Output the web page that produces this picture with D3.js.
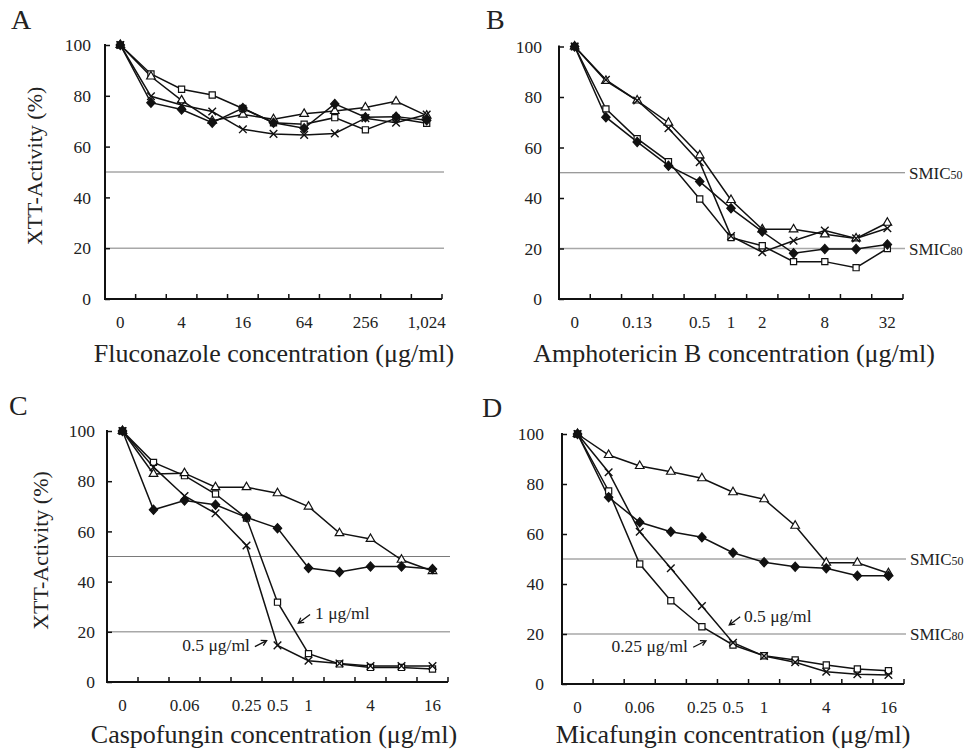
<!DOCTYPE html>
<html lang="en">
<head>
<meta charset="UTF-8">
<title>XTT activity vs antifungal concentration</title>
<script src="https://d3js.org/d3.v7.min.js"></script>
<style>
  body { margin: 0; background: #fff; }
  svg text { font-family: "Liberation Serif", "Times New Roman", serif; fill: #222; }
</style>
</head>
<body>
<div id="chart"></div>
<script>
// ---- data ----
const yTicks = [0, 20, 40, 60, 80, 100];

// A: fluconazole
const concA = ["0", "2", "4", "8", "16", "32", "64", "128", "256", "512", "1,024"];
const labelsA = ["0", "4", "16", "64", "256", "1,024"];
const diamondA = [100, 77.3, 74.6, 69.4, 75.2, 69.4, 67.2, 76.8, 71.6, 71.8, 70.4];
const squareA = [100, 88.6, 82.6, 80.3, 75.0, 69.4, 68.8, 71.4, 66.6, 71.2, 69.2];
const triangleA = [100, 87.6, 78.2, 70.2, 72.6, 70.8, 72.9, 74.0, 75.4, 77.8, 72.2];
const crossA = [100, 79.8, 76.4, 73.8, 66.8, 65.0, 64.6, 65.2, 71.2, 69.4, 72.6];

// B: amphotericin B
const concB = ["0", "0.06", "0.13", "0.25", "0.5", "1", "2", "4", "8", "16", "32"];
const labelsB = ["0", "0.13", "0.5", "1", "2", "8", "32"];
const diamondB = [100, 72.0, 62.2, 52.8, 46.5, 35.9, 26.7, 18.1, 19.8, 19.8, 21.6];
const squareB = [100, 75.3, 63.5, 54.4, 39.6, 24.3, 21.1, 14.8, 14.8, 12.4, 20.0];
const triangleB = [100, 86.4, 78.6, 69.8, 56.9, 39.2, 27.6, 27.6, 25.6, 24.0, 30.2];
const crossB = [100, 86.8, 78.6, 67.6, 54.2, 24.9, 18.5, 23.1, 27.1, 24.0, 28.0];

// C: caspofungin
const concC = ["0", "0.03", "0.06", "0.125", "0.25", "0.5", "1", "2", "4", "8", "16"];
const labelsC = ["0", "0.06", "0.25", "0.5", "1", "4", "16"];
const diamondC = [100, 68.6, 72.3, 70.6, 65.6, 61.3, 45.4, 43.8, 46.0, 46.0, 45.0];
const squareC = [100, 87.5, 82.2, 74.9, 65.3, 31.8, 11.3, 7.2, 5.8, 5.8, 5.2];
const triangleC = [100, 82.9, 83.2, 77.6, 77.6, 75.2, 69.9, 59.3, 57.0, 48.7, 44.2];
const crossC = [100, 85.6, 74.1, 67.2, 54.4, 14.6, 8.5, 7.4, 6.4, 6.4, 6.4];

// D: micafungin
const concD = ["0", "0.03", "0.06", "0.125", "0.25", "0.5", "1", "2", "4", "8", "16"];
const labelsD = ["0", "0.06", "0.25", "0.5", "1", "4", "16"];
const diamondD = [100, 74.7, 64.7, 60.9, 58.7, 52.5, 48.7, 46.9, 46.3, 43.3, 43.3];
const squareD = [100, 77.2, 48.0, 33.3, 22.9, 15.6, 11.3, 9.6, 7.6, 6.0, 5.3];
const triangleD = [100, 91.6, 87.2, 84.9, 82.3, 76.7, 73.9, 63.3, 48.5, 48.5, 44.3];
const crossD = [100, 84.7, 60.9, 46.3, 31.2, 16.5, 11.2, 8.7, 4.9, 3.9, 3.6];

// ---- layout ----
const W = 971, H = 749;
const panels = [
  { letter: "A", lx: 11, ly: 29, left: 105, right: 442, top: 45, bottom: 299, pad: 14,
    cats: concA, labels: labelsA, title: "Fluconazole concentration (\u03bcg/ml)", titleX: 274, titleY: 362,
    yTitle: true, yTitleX: 42, smic: false,
    series: { diamond: diamondA, square: squareA, triangle: triangleA, cross: crossA }, notes: [] },
  { letter: "B", lx: 486, ly: 29, left: 559, right: 903, top: 46.5, bottom: 299, pad: 17,
    cats: concB, labels: labelsB, title: "Amphotericin B concentration (\u03bcg/ml)", titleX: 734, titleY: 362,
    yTitle: false, smic: true,
    series: { diamond: diamondB, square: squareB, triangle: triangleB, cross: crossB }, notes: [] },
  { letter: "C", lx: 9, ly: 415, left: 107, right: 448, top: 431, bottom: 682, pad: 12,
    cats: concC, labels: labelsC, title: "Caspofungin concentration (\u03bcg/ml)", titleX: 274, titleY: 743,
    yTitle: true, yTitleX: 48, smic: false,
    series: { diamond: diamondC, square: squareC, triangle: triangleC, cross: crossC },
    notes: [
      { text: "1 \u03bcg/ml", u: 6.71, v: 25.1, anchor: "start", tail: [6.55, 26.9], head: [6.17, 23.4] },
      { text: "0.5 \u03bcg/ml", u: 4.61, v: 12.4, anchor: "end", tail: [4.77, 14.1], head: [5.15, 16.5] }
    ] },
  { letter: "D", lx: 482, ly: 417, left: 562, right: 904, top: 434, bottom: 684, pad: 18,
    cats: concD, labels: labelsD, title: "Micafungin concentration (\u03bcg/ml)", titleX: 733, titleY: 743,
    yTitle: false, smic: true,
    series: { diamond: diamondD, square: squareD, triangle: triangleD, cross: crossD },
    notes: [
      { text: "0.5 \u03bcg/ml", u: 5.85, v: 24.9, anchor: "start", tail: [5.73, 26.9], head: [5.38, 23.6] },
      { text: "0.25 \u03bcg/ml", u: 4.05, v: 12.9, anchor: "end", tail: [4.22, 14.7], head: [4.63, 17.3] }
    ] }
];

const svg = d3.select("#chart").append("svg")
  .attr("width", W).attr("height", H);

// marker shapes
const sym = {
  diamond: "M0,-4.6L4.2,0L0,4.6L-4.2,0Z",
  square: d3.symbol().type(d3.symbolSquare).size(38)(),
  triangle: d3.symbol().type(d3.symbolTriangle).size(32)(),
  cross: "M-3.8,-3.8L3.8,3.8M-3.8,3.8L3.8,-3.8"
};

panels.forEach(p => {
  const g = svg.append("g");
  const x = d3.scaleBand().domain(p.cats).range([p.left, p.right]).padding(0);
  const xu = d3.scaleLinear().domain([0, p.cats.length]).range([p.left, p.right]);
  const y = d3.scaleLinear().domain([0, 100]).range([p.bottom, p.top]);

  // panel letter
  g.append("text").attr("x", p.lx).attr("y", p.ly)
    .attr("font-size", 28).text(p.letter);

  // reference lines (SMIC50 / SMIC80)
  g.append("line").attr("x1", p.left).attr("x2", p.right + 2)
    .attr("y1", y(50)).attr("y2", y(50))
    .attr("stroke", "#7a7a7a").attr("stroke-width", 1);
  g.append("line").attr("x1", p.left).attr("x2", p.right + 2)
    .attr("y1", y(20)).attr("y2", y(20))
    .attr("stroke", "#a8a8a8").attr("stroke-width", 1.4);

  if (p.smic) {
    [[50, "50"], [20, "80"]].forEach(([v, sub]) => {
      const t = g.append("text").attr("x", p.right + 6).attr("y", y(v) + 6)
        .attr("font-size", 17);
      t.append("tspan").text("SMIC");
      t.append("tspan").attr("font-size", 12).text(sub);
    });
  }

  // y axis
  const yAxis = d3.axisLeft(y).tickValues(yTicks).tickSizeInner(-5).tickSizeOuter(0)
    .tickPadding(p.pad);
  const ya = g.append("g").attr("transform", `translate(${p.left},0)`).call(yAxis);
  ya.select(".domain").attr("stroke", "#111").attr("stroke-width", 2)
    .attr("d", `M0,${p.bottom + 1}V${p.top - 1}`);
  ya.selectAll(".tick line").attr("stroke", "#111").attr("stroke-width", 1.5);
  ya.selectAll(".tick text").attr("font-size", 17.5).attr("fill", "#222");

  // x axis: labels at category centres, ticks at boundaries
  const xAxis = d3.axisBottom(x).tickSize(0).tickPadding(0)
    .tickFormat(d => p.labels.includes(d) ? d : "");
  const xa = g.append("g").attr("transform", `translate(0,${p.bottom})`).call(xAxis);
  xa.select(".domain").attr("stroke", "#111").attr("stroke-width", 2)
    .attr("d", `M${p.left - 1},0H${p.right}`);
  xa.selectAll(".tick text").attr("font-size", 17).attr("dy", 0).attr("y", 29)
    .attr("fill", "#222");
  g.selectAll(null).data(d3.range(1, p.cats.length + 1)).join("line")
    .attr("x1", d => xu(d)).attr("x2", d => xu(d))
    .attr("y1", p.bottom).attr("y2", p.bottom - 5)
    .attr("stroke", "#111").attr("stroke-width", 1.5);

  // titles
  g.append("text").attr("x", p.titleX).attr("y", p.titleY)
    .attr("text-anchor", "middle").attr("font-size", 26).text(p.title);
  if (p.yTitle) {
    g.append("text")
      .attr("transform", `translate(${p.yTitleX},${(p.top + p.bottom) / 2 - 6}) rotate(-90)`)
      .attr("text-anchor", "middle").attr("font-size", 22).text("XTT-Activity (%)");
  }

  // series (diamonds drawn last so the filled markers sit on top)
  const line = d3.line().x((d, i) => x(p.cats[i]) + x.bandwidth() / 2).y(d => y(d));
  const order = ["square", "triangle", "cross", "diamond"];
  order.forEach(k => {
    g.append("path").datum(p.series[k]).attr("d", line)
      .attr("fill", "none").attr("stroke", "#111").attr("stroke-width", 1.5);
  });
  order.forEach(k => {
    g.selectAll(null).data(p.series[k]).join("path")
      .attr("transform", (d, i) => `translate(${x(p.cats[i]) + x.bandwidth() / 2},${y(d)})`)
      .attr("d", sym[k])
      .attr("fill", k === "diamond" ? "#111" : (k === "cross" ? "none" : "#fff"))
      .attr("stroke", "#111").attr("stroke-width", k === "cross" ? 1.4 : 1.2);
  });

  // annotations
  p.notes.forEach(n => {
    g.append("text").attr("x", xu(n.u)).attr("y", y(n.v))
      .attr("text-anchor", n.anchor).attr("font-size", 17.5).text(n.text);
    const x1 = xu(n.tail[0]), y1 = y(n.tail[1]), x2 = xu(n.head[0]), y2 = y(n.head[1]);
    const a = Math.atan2(y2 - y1, x2 - x1), L = 6;
    const h1 = [x2 - L * Math.cos(a - 0.5), y2 - L * Math.sin(a - 0.5)];
    const h2 = [x2 - L * Math.cos(a + 0.5), y2 - L * Math.sin(a + 0.5)];
    g.append("path")
      .attr("d", `M${x1},${y1}L${x2},${y2}M${h1}L${x2},${y2}L${h2}`)
      .attr("fill", "none").attr("stroke", "#111").attr("stroke-width", 1.3);
  });
});
</script>
</body>
</html>
